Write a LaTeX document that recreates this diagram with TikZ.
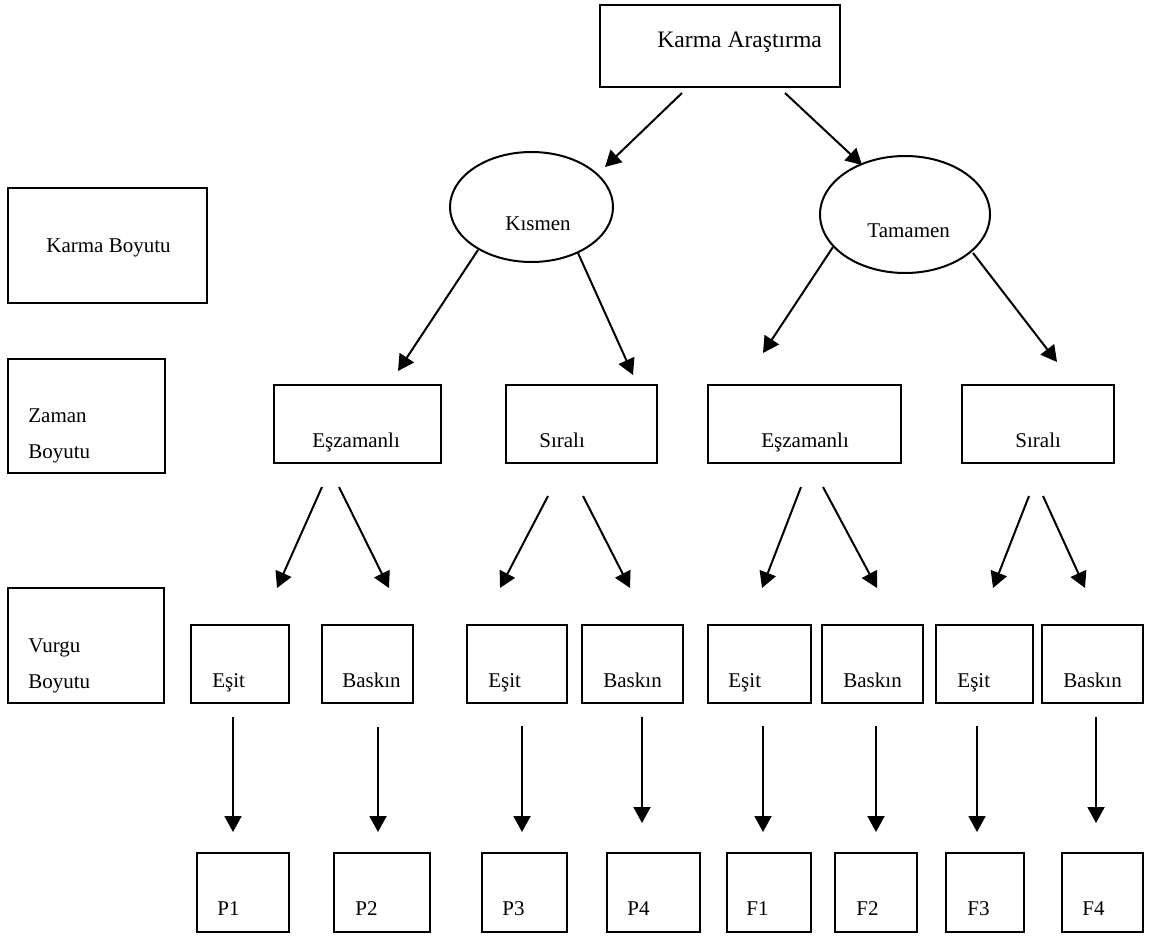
\documentclass[tikz,border=0pt]{standalone}
\usepackage{fontspec}
\setmainfont{Liberation Serif}
\usetikzlibrary{arrows.meta,shapes.geometric}
\newcommand\rbox[5]{\node[boxst, minimum width={(#4-#2)*0.5pt}, minimum height={(#5-#3)*0.5pt}] (#1) at ({(#2+#4)/2},{(#3+#5)/2}) {};}
\newcommand\tx[4]{\node[lbl] (#1) at (#2,#3) {#4};}
\newcommand\arw[5]{\coordinate (#1s) at (#2,#3); \coordinate (#1e) at (#4,#5); \draw[arrst] (#1s) -- (#1e);}
\begin{document}
\begin{tikzpicture}[x=0.5pt,y=-0.5pt,
  font=\fontsize{10.5}{12.5}\selectfont,
  boxst/.style={draw, line width=1pt, rectangle, inner sep=0pt},
  ellst/.style={draw, line width=1pt, ellipse, inner sep=0pt},
  lbl/.style={anchor=base west, inner sep=0pt},
  arrst/.style={line width=1pt, -{Triangle[length=8pt,width=8.5pt]}}]
\useasboundingbox (0,0) rectangle (1149,936);
% top
\rbox{top}{600}{5}{840}{87}
\node[lbl, font=\fontsize{11.8}{14}\selectfont] (topt) at (657,48) {Karma Araştırma};
\node[ellst, minimum width=81.5pt, minimum height=55pt] (kis) at (531.5,207) {};
\tx{kist}{505}{230}{Kısmen}
\node[ellst, minimum width=85pt, minimum height=58.5pt] (tam) at (905,214.5) {};
\tx{tamt}{867}{237}{Tamamen}
% left dimension boxes
\rbox{kb}{8}{188}{207}{303}
\tx{kbt}{46}{252}{Karma Boyutu}
\rbox{zb}{8}{359}{165}{473}
\tx{zbt1}{28}{422}{Zaman}
\tx{zbt2}{28}{458}{Boyutu}
\rbox{vb}{8}{588}{164}{703}
\tx{vbt1}{28}{652}{Vurgu}
\tx{vbt2}{28}{688}{Boyutu}
% level 2
\rbox{e1}{274}{385}{441}{463}\tx{e1t}{312}{447}{Eşzamanlı}
\rbox{s1}{506}{385}{657}{463}\tx{s1t}{539}{447}{Sıralı}
\rbox{e2}{708}{385}{901}{463}\tx{e2t}{761}{447}{Eşzamanlı}
\rbox{s2}{962}{385}{1114}{463}\tx{s2t}{1015}{447}{Sıralı}
% level 3
\rbox{q1}{191}{625}{289}{703}\tx{q1t}{212}{687}{Eşit}
\rbox{q2}{322}{625}{413}{703}\tx{q2t}{342}{687}{Baskın}
\rbox{q3}{467}{625}{567}{703}\tx{q3t}{488}{687}{Eşit}
\rbox{q4}{582}{625}{683}{703}\tx{q4t}{603}{687}{Baskın}
\rbox{q5}{708}{625}{811}{703}\tx{q5t}{728}{687}{Eşit}
\rbox{q6}{822}{625}{923}{703}\tx{q6t}{843}{687}{Baskın}
\rbox{q7}{936}{625}{1033}{703}\tx{q7t}{957}{687}{Eşit}
\rbox{q8}{1042}{625}{1143}{703}\tx{q8t}{1063}{687}{Baskın}
% level 4
\rbox{p1}{197}{853}{289}{932}\tx{p1t}{217}{915}{P1}
\rbox{p2}{334}{853}{430}{932}\tx{p2t}{355}{915}{P2}
\rbox{p3}{482}{853}{567}{932}\tx{p3t}{502}{915}{P3}
\rbox{p4}{607}{853}{700}{932}\tx{p4t}{627}{915}{P4}
\rbox{f1}{727}{853}{811}{932}\tx{f1t}{746}{915}{F1}
\rbox{f2}{835}{853}{917}{932}\tx{f2t}{856}{915}{F2}
\rbox{f3}{946}{853}{1024}{932}\tx{f3t}{967}{915}{F3}
\rbox{f4}{1062}{853}{1143}{932}\tx{f4t}{1082}{915}{F4}
% arrows
\arw{a1}{682}{93}{605}{167}
\arw{a2}{785}{93}{862}{165}
\arw{k1}{478}{250}{398}{371}
\arw{k2}{578}{253}{633}{375}
\arw{t1}{833}{247}{763}{353}
\arw{t2}{973}{253}{1057}{362}
\arw{b1}{322}{487}{277}{588}
\arw{b2}{339}{487}{389}{588}
\arw{b3}{548}{496}{500}{588}
\arw{b4}{583}{496}{630}{588}
\arw{b5}{801}{487}{762}{588}
\arw{b6}{823}{487}{877}{588}
\arw{b7}{1029}{496}{993}{588}
\arw{b8}{1043}{496}{1085}{588}
\arw{v1}{233}{717}{233}{832}
\arw{v2}{378}{727}{378}{832}
\arw{v3}{522}{726}{522}{832}
\arw{v4}{642}{717}{642}{823}
\arw{v5}{763}{726}{763}{832}
\arw{v6}{876}{726}{876}{832}
\arw{v7}{977}{726}{977}{832}
\arw{v8}{1096}{717}{1096}{823}
\end{tikzpicture}
\end{document}
